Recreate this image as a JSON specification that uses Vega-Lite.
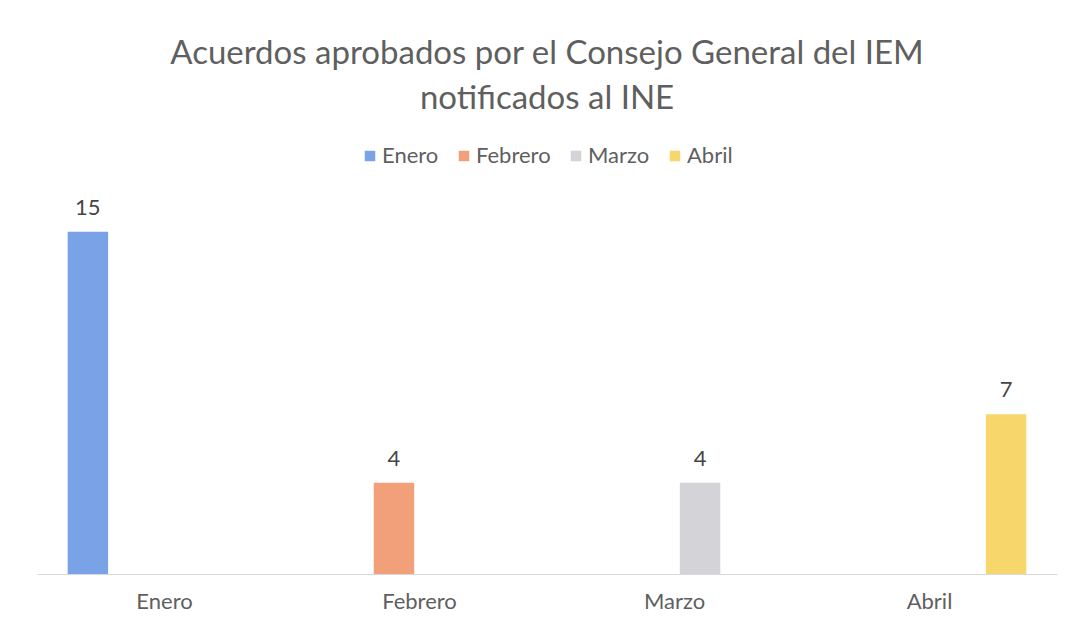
{
  "$schema": "https://vega.github.io/schema/vega-lite/v6.json",
  "width": 1020,
  "height": 365,
  "autosize": {"type": "none"},
  "padding": {"left": 37, "top": 209, "right": 14, "bottom": 56},
  "background": "white",
  "config": {
    "view": {"stroke": null},
    "font": "Lato"
  },
  "title": {
    "text": ["Acuerdos aprobados por el Consejo General del IEM", "notificados al INE"],
    "fontSize": 33,
    "fontWeight": "normal",
    "color": "#5f5f5f",
    "lineHeight": 45,
    "anchor": "middle",
    "offset": 29,
    "font": "Lato"
  },
  "data": {
    "values": [
      {"mes": "Enero", "serie": "Enero", "value": 15},
      {"mes": "Enero", "serie": "Febrero", "value": 0},
      {"mes": "Enero", "serie": "Marzo", "value": 0},
      {"mes": "Enero", "serie": "Abril", "value": 0},
      {"mes": "Febrero", "serie": "Enero", "value": 0},
      {"mes": "Febrero", "serie": "Febrero", "value": 4},
      {"mes": "Febrero", "serie": "Marzo", "value": 0},
      {"mes": "Febrero", "serie": "Abril", "value": 0},
      {"mes": "Marzo", "serie": "Enero", "value": 0},
      {"mes": "Marzo", "serie": "Febrero", "value": 0},
      {"mes": "Marzo", "serie": "Marzo", "value": 4},
      {"mes": "Marzo", "serie": "Abril", "value": 0},
      {"mes": "Abril", "serie": "Enero", "value": 0},
      {"mes": "Abril", "serie": "Febrero", "value": 0},
      {"mes": "Abril", "serie": "Marzo", "value": 0},
      {"mes": "Abril", "serie": "Abril", "value": 7}
    ]
  },
  "encoding": {
    "x": {
      "field": "mes",
      "type": "nominal",
      "sort": ["Enero", "Febrero", "Marzo", "Abril"],
      "scale": {"paddingInner": 0, "paddingOuter": 0},
      "axis": {
        "title": null,
        "labelAngle": 0,
        "labelFontSize": 22,
        "labelColor": "#5f5f5f",
        "labelPadding": 17,
        "ticks": false,
        "domainColor": "#d9d9d9",
        "domainWidth": 1
      }
    },
    "xOffset": {
      "field": "serie",
      "type": "nominal",
      "sort": ["Enero", "Febrero", "Marzo", "Abril"],
      "scale": {"paddingInner": 0.208, "paddingOuter": 0.6}
    },
    "y": {
      "field": "value",
      "type": "quantitative",
      "scale": {"domain": [0, 16], "nice": false},
      "axis": null
    }
  },
  "layer": [
    {
      "mark": {"type": "bar"},
      "encoding": {
        "color": {
          "field": "serie",
          "type": "nominal",
          "sort": ["Enero", "Febrero", "Marzo", "Abril"],
          "scale": {
            "domain": ["Enero", "Febrero", "Marzo", "Abril"],
            "range": ["#79a3e6", "#f2a07a", "#d3d3d8", "#f7d66b"]
          },
          "legend": {
            "title": null,
            "orient": "none",
            "direction": "horizontal",
            "legendX": 322,
            "legendY": -64,
            "symbolType": "square",
            "symbolSize": 110,
            "symbolStrokeWidth": 0,
            "labelFontSize": 22,
            "labelColor": "#5f5f5f",
            "labelOffset": 1,
            "columnPadding": 14
          }
        }
      }
    },
    {
      "transform": [{"filter": "datum.value > 0"}],
      "mark": {"type": "text", "baseline": "bottom", "dy": -12, "fontSize": 22, "color": "#454545"},
      "encoding": {
        "text": {"field": "value", "type": "quantitative"}
      }
    }
  ]
}
